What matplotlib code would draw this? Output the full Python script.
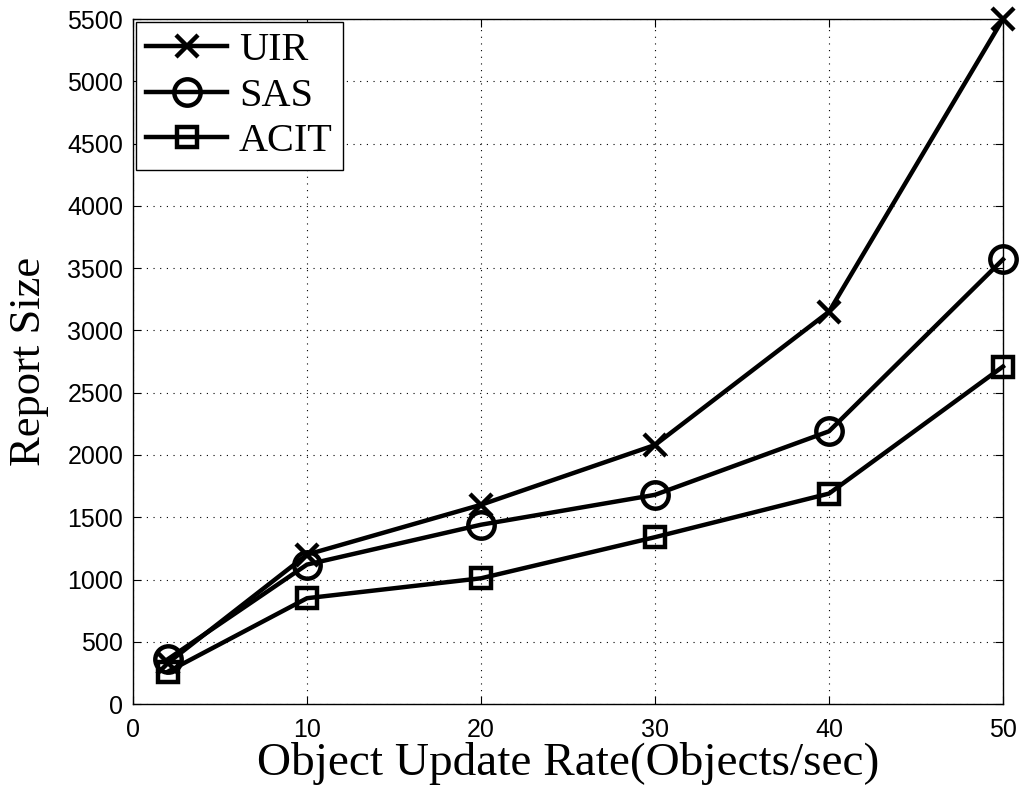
import matplotlib
matplotlib.use("Agg")
import matplotlib.pyplot as plt

# data
rate = [2, 10, 20, 30, 40, 50]
uir = [330, 1200, 1600, 2080, 3150, 5500]
sas = [360, 1120, 1440, 1680, 2190, 3570]
acit = [260, 850, 1010, 1340, 1690, 2710]

fig = plt.figure(figsize=(10.19, 7.92), dpi=100)
ax = fig.add_axes([0.1305, 0.111, 0.8538, 0.865])

ax.plot(rate, uir, color="black", lw=3.2, marker="x", ms=16, mew=3.2,
        clip_on=False, label="UIR")
ax.plot(rate, sas, color="black", lw=3.2, marker="o", ms=19, mew=3.2,
        mfc="none", clip_on=False, label="SAS")
ax.plot(rate, acit, color="black", lw=3.2, marker="s", ms=15, mew=3.2,
        mfc="none", clip_on=False, label="ACIT")

ax.set_xlim(0, 50)
ax.set_ylim(0, 5500)
ax.set_xticks(range(0, 51, 10))
ax.set_yticks(range(0, 5501, 500))
ax.tick_params(direction="in", labelsize=18, length=6, top=True, right=True)
ax.tick_params(axis="x", pad=10)
ax.tick_params(axis="y", pad=7)
for lab in ax.get_xticklabels() + ax.get_yticklabels():
    lab.set_fontfamily("Liberation Sans")
ax.grid(True, color="black", linestyle=(0, (1, 5)), linewidth=0.8)

ax.set_xlabel("Object Update Rate(Objects/sec)", fontsize=34,
              fontfamily="Liberation Serif", labelpad=0)
ax.set_ylabel("Report Size", fontsize=32, fontfamily="Liberation Serif",
              labelpad=13)

leg = ax.legend(loc="upper left", prop={"family": "Liberation Serif", "size": 29},
                fancybox=False, edgecolor="black", framealpha=1,
                borderaxespad=0.08, handlelength=2.0, labelspacing=0.2,
                handletextpad=0.3, borderpad=0.25)
leg.get_frame().set_linewidth(1.0)

for s in ax.spines.values():
    s.set_linewidth(1.0)

fig.savefig("out.png", dpi=100)
